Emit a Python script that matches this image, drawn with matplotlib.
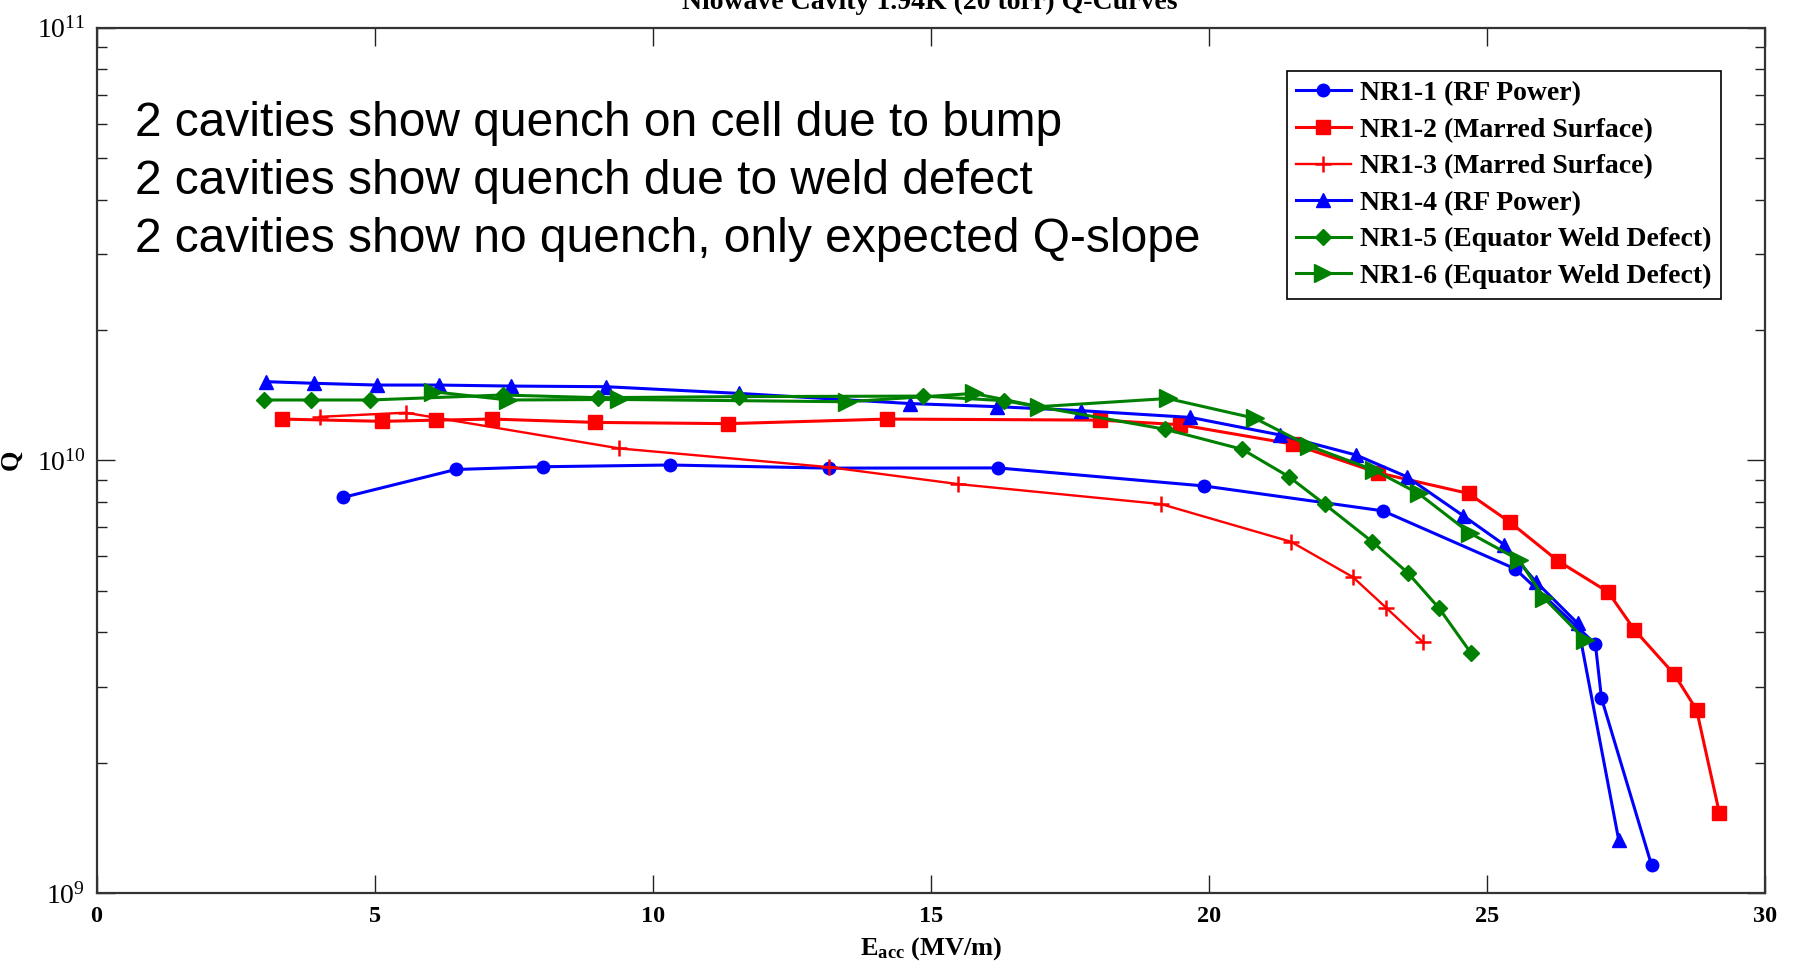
import matplotlib
matplotlib.use("Agg")
import matplotlib.pyplot as plt
from matplotlib.ticker import LogLocator, NullFormatter, FixedLocator

plt.rcParams['font.family'] = ['Liberation Serif', 'DejaVu Serif']
plt.rcParams['mathtext.fontset'] = 'custom'
plt.rcParams['mathtext.rm'] = 'Liberation Serif:bold'
plt.rcParams['mathtext.bf'] = 'Liberation Serif:bold'
plt.rcParams['mathtext.default'] = 'rm'

# ---- data ----
nr1_1_x = [4.44, 6.46, 8.02, 10.31, 13.17, 16.21, 19.92, 23.13, 25.51, 26.95, 27.06, 27.96]
nr1_1_q = [8.21e9, 9.52e9, 9.66e9, 9.75e9, 9.59e9, 9.60e9, 8.72e9, 7.64e9, 5.61e9, 3.76e9, 2.82e9, 1.16e9]

nr1_2_x = [3.33, 5.14, 6.11, 7.12, 8.97, 11.36, 14.22, 18.05, 19.49, 21.52, 23.05, 24.67,
           25.41, 26.28, 27.18, 27.65, 28.37, 28.77, 29.18]
nr1_2_q = [1.245e10, 1.230e10, 1.238e10, 1.245e10, 1.223e10, 1.215e10, 1.245e10, 1.238e10,
           1.208e10, 1.089e10, 9.35e9, 8.38e9, 7.2e9, 5.85e9, 4.96e9, 4.06e9, 3.2e9, 2.65e9, 1.53e9]

nr1_3_x = [4.01, 5.56, 9.40, 13.17, 15.49, 19.14, 21.48, 22.59, 23.19, 23.85]
nr1_3_q = [1.260e10, 1.288e10, 1.065e10, 9.64e9, 8.81e9, 7.92e9, 6.48e9, 5.37e9, 4.56e9, 3.80e9]

nr1_4_x = [3.05, 3.91, 5.04, 6.15, 7.45, 9.16, 11.56, 14.63, 16.19, 17.70, 19.67, 21.28,
           22.65, 23.56, 24.57, 25.31, 25.88, 26.63, 27.37]
nr1_4_q = [1.519e10, 1.506e10, 1.492e10, 1.492e10, 1.484e10, 1.479e10, 1.427e10, 1.352e10,
           1.330e10, 1.302e10, 1.256e10, 1.144e10, 1.028e10, 9.16e9, 7.45e9, 6.38e9, 5.24e9,
           4.20e9, 1.325e9]

nr1_5_x = [3.02, 3.85, 4.92, 7.30, 9.01, 11.56, 14.86, 16.32, 19.22, 20.60, 21.44, 22.08,
           22.94, 23.58, 24.14, 24.71]
nr1_5_q = [1.378e10, 1.378e10, 1.378e10, 1.415e10, 1.395e10, 1.403e10, 1.407e10, 1.373e10,
           1.179e10, 1.06e10, 9.16e9, 7.92e9, 6.48e9, 5.49e9, 4.55e9, 3.59e9]

nr1_6_x = [6.05, 7.40, 9.39, 13.50, 15.77, 16.95, 19.26, 20.83, 21.81, 22.97, 23.77, 24.69,
           25.58, 26.03, 26.77]
nr1_6_q = [1.44e10, 1.378e10, 1.382e10, 1.365e10, 1.427e10, 1.33e10, 1.389e10, 1.25e10,
           1.078e10, 9.49e9, 8.38e9, 6.79e9, 5.88e9, 4.80e9, 3.84e9]

labels = ['NR1-1 (RF Power)', 'NR1-2 (Marred Surface)', 'NR1-3 (Marred Surface)',
          'NR1-4 (RF Power)', 'NR1-5 (Equator Weld Defect)', 'NR1-6 (Equator Weld Defect)']

notes = ['2 cavities show quench on cell due to bump',
         '2 cavities show quench due to weld defect',
         '2 cavities show no quench, only expected Q-slope']

title = 'Niowave Cavity 1.94K (20 torr) Q-Curves'
xticks = [0, 5, 10, 15, 20, 25, 30]

# ---- figure ----
W, H = 1795, 967
fig = plt.figure(figsize=(W / 100, H / 100), dpi=100)
ax = fig.add_axes([96.5 / W, 1 - 893 / H, (1765 - 96.5) / W, (893 - 27.5) / H])

blue, red, green = '#0000FF', '#FF0000', '#008000'
lw = 2.2
ax.plot(nr1_1_x, nr1_1_q, color=blue, marker='o', ms=9, lw=lw, label=labels[0])
ax.plot(nr1_2_x, nr1_2_q, color=red, marker='s', ms=10, lw=lw, label=labels[1])
ax.plot(nr1_3_x, nr1_3_q, color=red, marker='+', ms=11, mew=1.8, lw=1.7, label=labels[2])
ax.plot(nr1_4_x, nr1_4_q, color=blue, marker='^', ms=10, lw=lw, label=labels[3])
ax.plot(nr1_5_x, nr1_5_q, color=green, marker='D', ms=8, lw=lw, label=labels[4])
ax.plot(nr1_6_x, nr1_6_q, color=green, marker='>', ms=12.5, lw=lw, label=labels[5])

ax.set_yscale('log')
ax.set_xlim(0, 30)
ax.set_ylim(1e9, 1e11)
ax.xaxis.set_major_locator(FixedLocator(xticks))
ax.yaxis.set_major_locator(LogLocator(base=10, numticks=10))
ax.yaxis.set_minor_locator(LogLocator(base=10, subs=range(2, 10), numticks=20))
ax.yaxis.set_minor_formatter(NullFormatter())

ax.tick_params(axis='both', which='both', direction='in', top=True, right=True,
               colors='#222222', labelcolor='black')
ax.tick_params(axis='x', which='major', length=13, width=1, labelsize=17.5, pad=9)
ax.tick_params(axis='y', which='major', length=13, width=1, labelsize=20, pad=8)
ax.tick_params(axis='y', which='minor', length=7, width=1)
for lab in ax.get_xticklabels():
    lab.set_fontweight('bold')
for sp in ax.spines.values():
    sp.set_linewidth(1.6)
    sp.set_color('#333333')

ax.set_xlabel(r'E$_{\mathregular{acc}}$ (MV/m)', fontsize=19, fontweight='bold', labelpad=6)
ax.set_ylabel('Q', fontsize=19, fontweight='bold', labelpad=10)

leg = ax.legend(loc='upper right', bbox_to_anchor=(0.9736, 0.9497), fancybox=False,
                framealpha=1, edgecolor='black', borderpad=0.35, labelspacing=0.4,
                handlelength=1.95, handletextpad=0.33, borderaxespad=0,
                prop={'family': 'Liberation Serif', 'weight': 'bold', 'size': 20})
leg.get_frame().set_linewidth(1.2)

for i, t in enumerate(notes):
    fig.text(135 / W, 1 - (136 + 58 * i) / H, t, fontsize=34.5, family='Liberation Sans',
             va='baseline', ha='left')

fig.text(930 / W, 1 - 9 / H, title, fontsize=20, fontweight='bold', ha='center', va='baseline')

fig.savefig('out.png', dpi=100)
